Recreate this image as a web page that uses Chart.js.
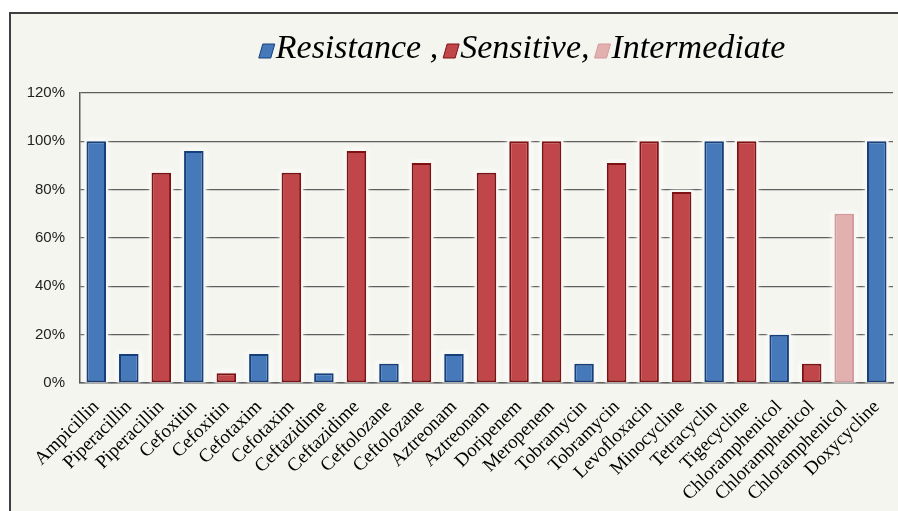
<!DOCTYPE html>
<html>
<head>
<meta charset="utf-8">
<script src="https://cdn.jsdelivr.net/npm/chart.js@4.4.1/dist/chart.umd.min.js"></script>
<style>
  html, body { margin: 0; padding: 0; background: #fff; }
  #frame {
    position: absolute; left: 9px; top: 12px;
    width: 887px; height: 497px;
    border-left: 2px solid #3f3f3f; border-top: 2px solid #3f3f3f;
    background: #f5f5f0;
  }
  #chart { display: block; }
</style>
</head>
<body>
<div id="frame"><canvas id="chart" width="887" height="497"></canvas></div>
<script>
const drugs = [
  "Ampicillin", "Piperacillin", "Piperacillin", "Cefoxitin", "Cefoxitin",
  "Cefotaxim", "Cefotaxim", "Ceftazidime", "Ceftazidime", "Ceftolozane",
  "Ceftolozane", "Aztreonam", "Aztreonam", "Doripenem", "Meropenem",
  "Tobramycin", "Tobramycin", "Levofloxacin", "Minocycline", "Tetracyclin",
  "Tigecycline", "Chloramphenicol", "Chloramphenicol", "Chloramphenicol", "Doxycycline"
];
const resistance = [100, 12, null, 96, null, 12, null, 4, null, 8, null, 12, null,
  null, null, 8, null, null, null, 100, null, 20, null, null, 100];
const sensitive = [null, null, 87, null, 4, null, 87, null, 96, null, 91, null, 87,
  100, 100, null, 91, 100, 79, null, 100, null, 8, null, null];
const intermediate = [null, null, null, null, null, null, null, null, null, null, null, null, null,
  null, null, null, null, null, null, null, null, null, null, 70, null];
const yTicks = [0, 20, 40, 60, 80, 100, 120];

// legend drawn as one italic line above the plot, with slanted swatches
const headerLegend = {
  id: "headerLegend",
  afterDraw(chart) {
    const ctx = chart.ctx;
    const items = chart.data.datasets.map(ds => ({
      text: ds.legendText, fill: ds.backgroundColor, edge: ds.borderColor
    }));
    ctx.save();
    ctx.font = 'italic 34px "Liberation Serif"';
    ctx.textBaseline = "alphabetic";
    const mark = 16, after = 1, between = 5;
    const widths = items.map(it => mark + after + ctx.measureText(it.text).width);
    const total = widths.reduce((a, b) => a + b, 0) + between * (items.length - 1);
    let x = 511 - total / 2;
    const base = 44;
    items.forEach((it, i) => {
      ctx.beginPath();
      ctx.moveTo(x, base);
      ctx.lineTo(x + 12, base);
      ctx.lineTo(x + 16, base - 14);
      ctx.lineTo(x + 4, base - 14);
      ctx.closePath();
      ctx.fillStyle = it.fill;
      ctx.fill();
      ctx.strokeStyle = it.edge;
      ctx.lineWidth = 1;
      ctx.stroke();
      ctx.fillStyle = "#000";
      ctx.fillText(it.text, x + mark + after, base);
      x += widths[i] + between;
    });
    ctx.restore();
  }
};

// pale halo behind every bar, painted over the gridlines before the bars
const barGlow = {
  id: "barGlow",
  beforeDatasetsDraw(chart) {
    const c = chart.ctx;
    c.save();
    c.fillStyle = "#f7f7f4";
    c.shadowColor = "rgba(255,255,255,1)";
    c.shadowBlur = 5;
    chart.data.datasets.forEach((ds, i) => {
      chart.getDatasetMeta(i).data.forEach((bar, j) => {
        if (ds.data[j] == null) return;
        const p = bar.getProps(["x", "y", "base", "width"], true);
        const top = Math.min(p.y, p.base) - 2;
        c.fillRect(p.x - p.width / 2 - 2, top, p.width + 4, Math.abs(p.base - p.y) + 2);
      });
    });
    c.restore();
  }
};

new Chart(document.getElementById("chart"), {
  type: "bar",
  data: {
    labels: drugs,
    datasets: [
      {
        label: "Resistance", legendText: "Resistance ,",
        data: resistance,
        backgroundColor: "#4679ba", borderColor: "#173f7a"
      },
      {
        label: "Sensitive", legendText: "Sensitive,",
        data: sensitive,
        backgroundColor: "#c04649", borderColor: "#7d1214"
      },
      {
        label: "Intermediate", legendText: "Intermediate",
        data: intermediate,
        backgroundColor: "#e3b0b0", borderColor: "#d49a9a"
      }
    ]
  },
  options: {
    responsive: false,
    animation: false,
    layout: { padding: { top: 79, right: 5, left: 0, bottom: 0 } },
    datasets: {
      bar: {
        barPercentage: 0.6,
        categoryPercentage: 1,
        borderWidth: 2,
        borderSkipped: false
      }
    },
    plugins: {
      legend: { display: false },
      tooltip: { enabled: false }
    },
    scales: {
      x: {
        stacked: true,
        grid: { display: false },
        border: { display: true, color: "#5a5a5a", width: 1.5 },
        ticks: {
          autoSkip: false,
          minRotation: 45,
          maxRotation: 45,
          padding: 5,
          color: "#000",
          font: { family: '"Liberation Serif"', size: 19 }
        },
        afterFit(scale) { scale.height = 128; }
      },
      y: {
        min: 0,
        max: 120,
        afterBuildTicks(scale) { scale.ticks = yTicks.map(v => ({ value: v })); },
        grid: { color: "#5e5e5e", lineWidth: 1.3, drawTicks: false },
        border: { display: true, color: "#5a5a5a", width: 1.5 },
        ticks: {
          padding: 15,
          color: "#222",
          font: { family: '"Liberation Sans"', size: 15 },
          callback: v => v + "%"
        },
        afterFit(scale) { scale.width = 69; }
      }
    }
  },
  plugins: [barGlow, headerLegend]
});
</script>
</body>
</html>
